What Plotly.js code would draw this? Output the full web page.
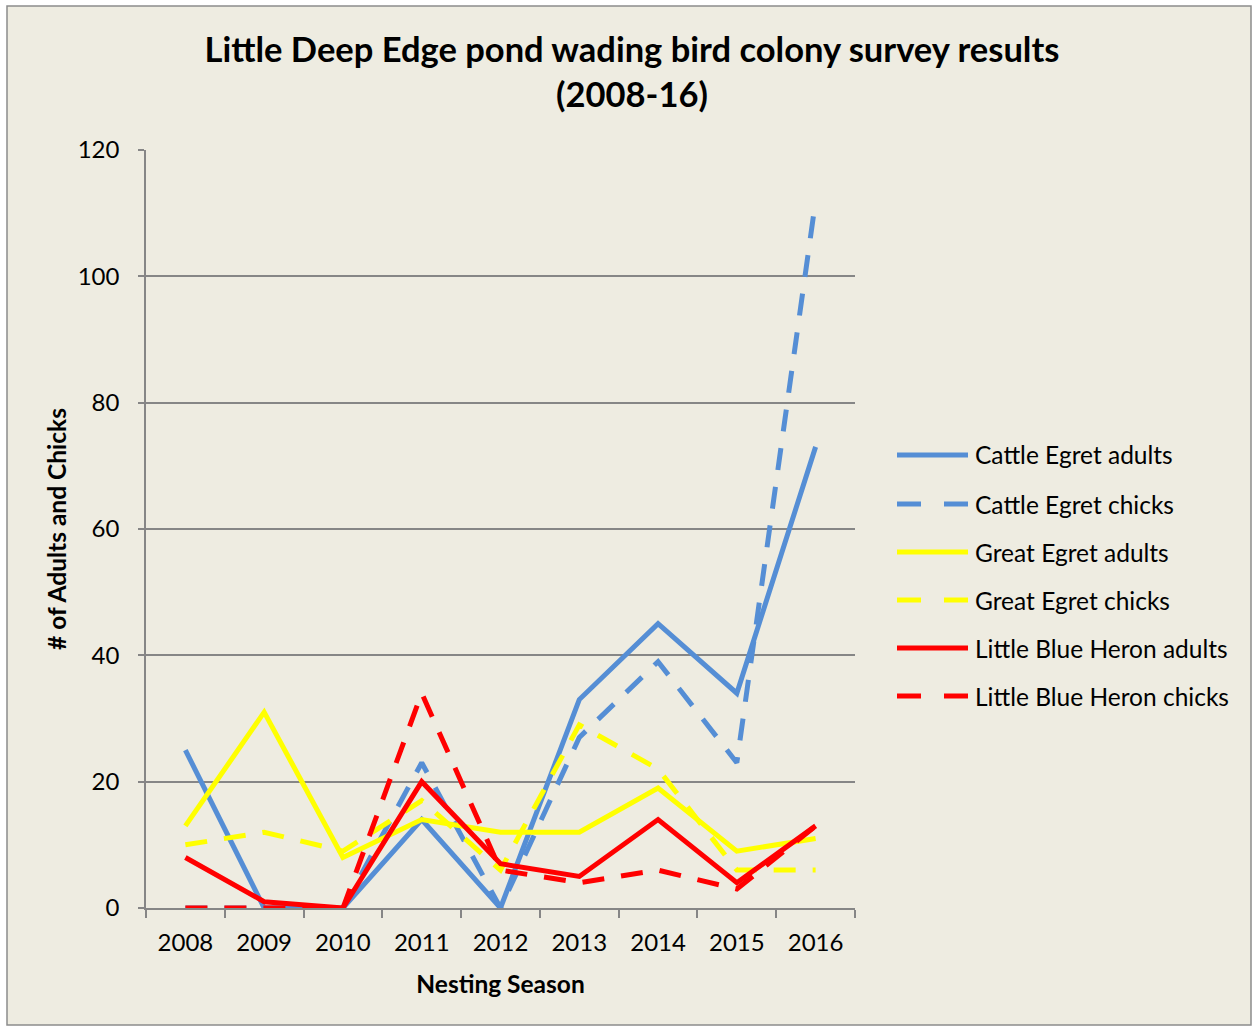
<!DOCTYPE html>
<html>
<head>
<meta charset="utf-8">
<script src="https://cdn.plot.ly/plotly-3.0.1.min.js"></script>
<style>html,body{margin:0;padding:0;background:#fff;}#chart{width:1253px;height:1027px;}</style>
</head>
<body>
<div id="chart"></div>
<script>
const years = ["2008","2009","2010","2011","2012","2013","2014","2015","2016"];
const cattleEgretAdults = [25, 0, 0, 14, 0, 33, 45, 34, 73];
const cattleEgretChicks = [0, 0, 0, 23, 0, 27, 39, 23, 112];
const greatEgretAdults = [13, 31, 8, 14, 12, 12, 19, 9, 11];
const greatEgretChicks = [10, 12, 9, 17, 6, 29, 22, 6, 6];
const lbhAdults = [8, 1, 0, 20, 7, 5, 14, 4, 13];
const lbhChicks = [0, 0, 0, 34, 6, 4, 6, 3, 13];
const seriesNames = ["Cattle Egret adults","Cattle Egret chicks","Great Egret adults","Great Egret chicks","Little Blue Heron adults","Little Blue Heron chicks"];
const yTicks = [0, 20, 40, 60, 80, 100, 120];

const BLUE = "#558ED5", YELLOW = "#FFFF00", RED = "#FF0000";
const DASH = "22px,17px";
const FONT = "Lato, 'Open Sans', sans-serif";
const styles = [
  {color: BLUE, dash: "solid"},
  {color: BLUE, dash: DASH},
  {color: YELLOW, dash: "solid"},
  {color: YELLOW, dash: DASH},
  {color: RED, dash: "solid"},
  {color: RED, dash: DASH}
];
const values = [cattleEgretAdults, cattleEgretChicks, greatEgretAdults, greatEgretChicks, lbhAdults, lbhChicks];

const traces = values.map((v, i) => ({
  x: years, y: v, type: "scatter", mode: "lines", name: seriesNames[i],
  line: {color: styles[i].color, dash: styles[i].dash, width: 5},
  showlegend: false, hoverinfo: "x+y+name"
}));

// plot area in pixels
const L = 146, R = 855, T = 150, B = 908, W = 1253, H = 1027;
const pw = R - L, ph = B - T;
const px = x => (x - L) / pw;
const py = y => (B - y) / ph;

const shapes = [{
  type: "rect", xref: "paper", yref: "paper", layer: "below",
  x0: px(7), x1: px(1251), y0: py(1025), y1: py(6),
  fillcolor: "#EEECE1", line: {color: "#8C8C8C", width: 1.5}
}];
const annotations = [];
const legendY = [455, 504, 552, 600, 648, 696];
seriesNames.forEach((n, i) => {
  shapes.push({
    type: "line", xref: "paper", yref: "paper",
    x0: px(897), x1: px(968), y0: py(legendY[i]), y1: py(legendY[i]),
    line: {color: styles[i].color, width: 5, dash: styles[i].dash === "solid" ? "solid" : "24px,23px"}
  });
  annotations.push({
    xref: "paper", yref: "paper", x: px(973), y: py(legendY[i]),
    xanchor: "left", yanchor: "middle", showarrow: false, text: n,
    font: {family: FONT, size: 24.5, color: "#000"}
  });
});

const layout = {
  width: W, height: H,
  margin: {l: L, r: W - R, t: T, b: H - B, pad: 0},
  paper_bgcolor: "#FFFFFF",
  plot_bgcolor: "rgba(0,0,0,0)",
  font: {family: FONT, size: 24, color: "#000"},
  title: {
    text: "<b>Little Deep Edge pond wading bird colony survey results<br>(2008-16)</b>",
    font: {family: FONT, size: 34.5, color: "#000"},
    x: 632 / W, xref: "container", xanchor: "center",
    y: 1 - 62 / H, yref: "container", yanchor: "middle"
  },
  xaxis: {
    type: "category", range: [-0.5, 8.5],
    tickson: "boundaries", ticks: "outside", ticklen: 8, tickwidth: 1.5, tickcolor: "#868686",
    showline: true, linecolor: "#868686", linewidth: 1.5,
    showgrid: false, zeroline: false,
    ticklabelstandoff: 12,
    tickfont: {family: FONT, size: 24, color: "#000"},
    title: {text: "<b>Nesting Season</b>", font: {family: FONT, size: 24.5, color: "#000"}, standoff: 21}
  },
  yaxis: {
    range: [0, 120], tickvals: yTicks, ticktext: yTicks.map(String),
    ticks: "outside", ticklen: 6, tickwidth: 1.5, tickcolor: "#868686",
    showline: true, linecolor: "#868686", linewidth: 1.5,
    showgrid: true, gridcolor: "#868686", gridwidth: 1.5, zeroline: false,
    ticklabelstandoff: 14,
    tickfont: {family: FONT, size: 24, color: "#000"},
    title: {text: "<b># of Adults and Chicks</b>", font: {family: FONT, size: 24.5, color: "#000"}, standoff: 4}
  },
  shapes: shapes,
  annotations: annotations,
  showlegend: false
};

Plotly.newPlot("chart", traces, layout, {displayModeBar: false});
</script>
</body>
</html>
